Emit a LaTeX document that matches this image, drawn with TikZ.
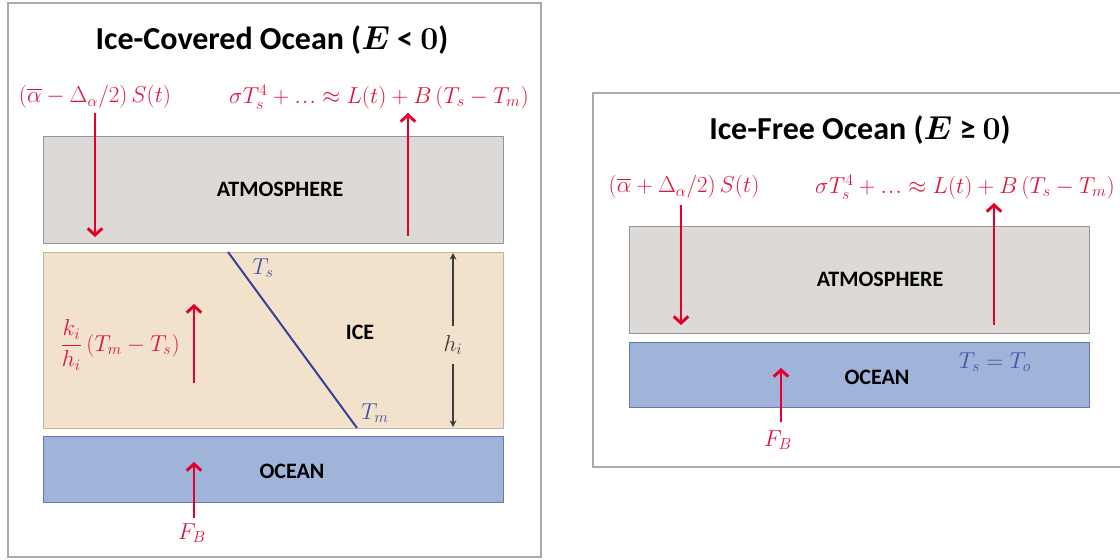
\documentclass[tikz,border=0pt]{standalone}
\usepackage{amsmath}
\usepackage{fontspec}
\usepackage{bm}
\usetikzlibrary{arrows.meta}
\newfontfamily\carl{Carlito}
\definecolor{redarr}{RGB}{228,0,43}
\definecolor{redtxt}{RGB}{225,20,60}
\definecolor{atmfill}{RGB}{221,217,214}
\definecolor{atmline}{RGB}{150,150,150}
\definecolor{icefill}{RGB}{242,225,203}
\definecolor{iceline}{RGB}{195,180,160}
\definecolor{ocfill}{RGB}{160,179,217}
\definecolor{ocline}{RGB}{100,120,180}
\definecolor{profile}{RGB}{55,65,155}
\definecolor{proftxt}{RGB}{70,82,165}
\definecolor{framec}{RGB}{170,170,170}
\definecolor{dimc}{RGB}{60,60,60}
\newcommand{\bzero}{{\rmfamily\fontseries{bx}\selectfont 0}}
\newcommand{\tdots}{\mathinner{.\mkern1mu.\mkern1mu.}}
\begin{document}
\begin{tikzpicture}[x=0.75pt,y=-0.75pt,
  layer/.style={draw, minimum width=345pt, inner sep=0, line width=0.75pt},
  atm/.style={layer, fill=atmfill, draw=atmline, minimum height=80.25pt},
  ice/.style={layer, fill=icefill, draw=iceline, minimum height=132pt},
  ocean/.style={layer, fill=ocfill, draw=ocline, minimum height=49.5pt},
  lbl/.style={font=\carl\bfseries\fontsize{16.5}{18}\selectfont, inner sep=0},
  eq/.style={text=redtxt, font=\fontsize{17.5}{20}\selectfont, inner sep=0},
  flux/.style={draw=redarr, line width=2.2pt, -{Straight Barb[length=5pt,width=11pt]}},
  titl/.style={font=\carl\bfseries\fontsize{24}{28}\selectfont, inner sep=0},
  frm/.style={draw=framec, line width=0.9pt},
  prof/.style={draw=profile, line width=1.5pt},
  proflbl/.style={text=proftxt, font=\fontsize{17.5}{20}\selectfont, inner sep=0},
  dimarr/.style={draw=dimc, line width=1.5pt, -{Stealth[length=5pt,width=5pt]}},
]
\useasboundingbox (0,0) rectangle (1120,560);
\clip (0,0) rectangle (1120,560);
\fill[white] (0,0) rectangle (1120,560);

% ---------- left panel ----------
\draw[frm] (8,3) rectangle (541,557);
\node[titl] (tL) at (272,40) {Ice-Covered Ocean ($\bm{E}$ < \bzero)};

\node[atm] (atmL) at (273,189.5) {};
\node[lbl] (atmLt) at (280,189) {ATMOSPHERE};
\node[ice] (iceL) at (273,340) {};
\node[lbl] (iceLt) at (360,332) {ICE};
\node[ocean] (ocL) at (273,469) {};
\node[lbl] (ocLt) at (292,471) {OCEAN};

\node[eq] (swL) at (95,97) {$(\overline{\alpha}-\Delta_\alpha/2)\,S(t)$};
\node[eq] (lwL) at (379,97) {$\sigma T_s^4+\tdots\approx L(t)+B\,(T_s-T_m)$};
\coordinate (swLs) at (95,113);
\coordinate (swLe) at (95,237);
\draw[flux] (swLs) -- (swLe);
\coordinate (lwLs) at (408,236);
\coordinate (lwLe) at (408,113);
\draw[flux] (lwLs) -- (lwLe);

\node[eq] (cond) at (120,345) {$\dfrac{k_i}{h_i}\,(T_m-T_s)$};
\coordinate (condS) at (194,383);
\coordinate (condE) at (194,304);
\draw[flux] (condS) -- (condE);

\coordinate (tsTop) at (228,252);
\coordinate (tmBot) at (357,428);
\draw[prof] (tsTop) -- (tmBot);
\node[proflbl] (tsL) at (263,268) {$T_s$};
\node[proflbl] (tmL) at (375,413) {$T_m$};

\node[text=dimc, font=\fontsize{17.5}{20}\selectfont, inner sep=0, minimum height=28.5pt] (hi) at (453,345) {$h_i$};
\coordinate (hiTop) at (453,253);
\coordinate (hiBot) at (453,427);
\draw[dimarr] (hi.north) -- (hiTop);
\draw[dimarr] (hi.south) -- (hiBot);

\node[eq] (fbL) at (192,533) {$F_B$};
\coordinate (fbLs) at (194,518);
\coordinate (fbLe) at (194,462);
\draw[flux] (fbLs) -- (fbLe);

% ---------- right panel ----------
\draw[frm] (593,93) rectangle (1135,467);
\node[titl] (tR) at (860,130) {Ice-Free Ocean ($\bm{E}$ ≥ \bzero)};

\node[atm] (atmR) at (859,279.5) {};
\node[lbl] (atmRt) at (880,279) {ATMOSPHERE};
\node[ocean, minimum height=48.75pt] (ocR) at (859,374.5) {};
\node[lbl] (ocRt) at (877,377) {OCEAN};
\node[proflbl] (tsto) at (995,362) {$T_s=T_o$};

\node[eq] (swR) at (684,187) {$(\overline{\alpha}+\Delta_\alpha/2)\,S(t)$};
\node[eq] (lwR) at (965,187) {$\sigma T_s^4+\tdots\approx L(t)+B\,(T_s-T_m)$};
\coordinate (swRs) at (681,205);
\coordinate (swRe) at (681,325);
\draw[flux] (swRs) -- (swRe);
\coordinate (lwRs) at (994,325);
\coordinate (lwRe) at (994,203);
\draw[flux] (lwRs) -- (lwRe);

\node[eq] (fbR) at (778,440) {$F_B$};
\coordinate (fbRs) at (781,422);
\coordinate (fbRe) at (781,368);
\draw[flux] (fbRs) -- (fbRe);
\end{tikzpicture}
\end{document}
